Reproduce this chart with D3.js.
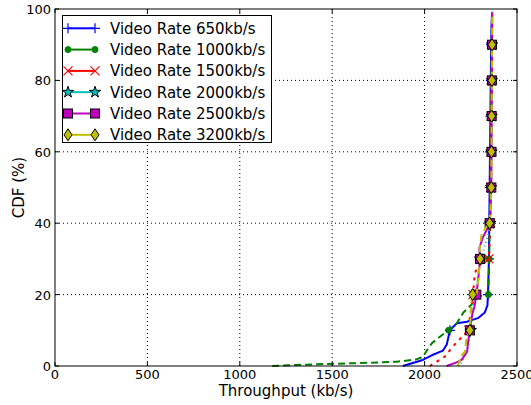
<!DOCTYPE html>
<html><head><meta charset="utf-8">
<script src="https://cdnjs.cloudflare.com/ajax/libs/d3/7.8.5/d3.min.js"></script>
<style>body{margin:0;background:#fff}svg{display:block}text{font-family:"DejaVu Sans",sans-serif}</style>
</head><body><svg id="c" width="531" height="405"></svg>
<script>
// Throughput (kb/s) and CDF (%)
const seriesNames = ["Video Rate 650kb/s","Video Rate 1000kb/s","Video Rate 1500kb/s","Video Rate 2000kb/s","Video Rate 2500kb/s","Video Rate 3200kb/s"];
const rate650x  = [1882,1990,2039,2099,2120,2137,2175,2229,2288,2326,2340,2343,2348,2350,2352,2354,2356,2358,2360,2362,2365];
const rate650y  = [0,1.7,3,4.3,6,10,12,12.4,13.4,15,17,20,30,40,50,60,70,80,90,95,99];
const rate1000x = [1175,1300,1500,1700,1850,1950,1990,2020,2040,2095,2130,2175,2210,2250,2280,2300,2345,2350,2352,2355,2357,2359,2361,2363,2365];
const rate1000y = [0,0.3,0.6,0.9,1.2,1.8,2.5,5,6.4,8.7,10,12,15,17,19,19.6,20,30,40,50,60,70,80,90,99];
const rate1500x = [2028,2060,2120,2137,2175,2218,2240,2245,2256,2262,2265,2272,2290,2348,2356,2358,2360,2361,2362,2363,2365];
const rate1500y = [0,1,3,4.5,6.7,9,10,14,17,20,22,26,28,30,40,50,60,70,80,90,99];
const rate2000x = [2180,2200,2222,2235,2250,2265,2280,2288,2300,2310,2330,2345,2355,2360,2362,2363,2364,2365,2366,2367,2368];
const rate2000y = [0,1,3.6,5.4,10,18,22,25,30,31,34.5,37,40,50,60,70,80,90,95,99,99.5];
const rate2500x = [2119,2173,2200,2230,2236,2245,2253,2260,2270,2280,2290,2300,2296,2315,2340,2352,2358,2361,2362,2363,2364,2365,2366];
const rate2500y = [0,1,1.7,4,7,10,13,15,16.6,20,24,30,33,36,38.5,40,45,50,60,70,80,90,99];
const rate3200x = [2180,2200,2218,2227,2245,2252,2260,2281,2290,2300,2298,2308,2318,2335,2352,2358,2361,2362,2363,2364,2365,2366];
const rate3200y = [0,3,4,8,10,17.6,20,20,24,30,33,36.7,37.6,39,40,45,50,60,70,80,90,99];
const markerLevels = [10,20,30,40,50,60,70,80,90];
const xTicks = [0,500,1000,1500,2000,2500];
const yTicks = [0,20,40,60,80,100];

const W=531,H=405, L=55, R=517, T=9, B=366;
const svg = d3.select("#c");
const x = d3.scaleLinear().domain([0,2500]).range([L,R]);
const y = d3.scaleLinear().domain([0,100]).range([B,T]);

// grid
const g = svg.append("g");
xTicks.slice(1,-1).forEach(v=>g.append("line").attr("x1",x(v)).attr("x2",x(v)).attr("y1",T).attr("y2",B)
  .attr("stroke","#000").attr("stroke-width",1).attr("stroke-dasharray","1,3"));
yTicks.slice(1,-1).forEach(v=>g.append("line").attr("y1",y(v)).attr("y2",y(v)).attr("x1",L).attr("x2",R)
  .attr("stroke","#000").attr("stroke-width",1).attr("stroke-dasharray","1,3"));

const styles = [
  {c:"#0000ff", dash:null, m:"plus", xs:rate650x, ys:rate650y},
  {c:"#008000", dash:"7,4", m:"dot", xs:rate1000x, ys:rate1000y},
  {c:"#ff0000", dash:"3,5", m:"x", xs:rate1500x, ys:rate1500y},
  {c:"#00bfbf", dash:"1,3", m:"star", xs:rate2000x, ys:rate2000y},
  {c:"#bf00bf", dash:null, m:"square", xs:rate2500x, ys:rate2500y},
  {c:"#bfbf00", dash:"7,4", m:"diamond", xs:rate3200x, ys:rate3200y}
];

function drawMarker(sel, type, cx, cy, c){
  if(type==="plus"){
    sel.append("path").attr("d",`M${cx-5},${cy}H${cx+5}M${cx},${cy-5}V${cy+5}`).attr("stroke",c).attr("stroke-width",1.2).attr("fill","none");
  } else if(type==="dot"){
    sel.append("circle").attr("cx",cx).attr("cy",cy).attr("r",3).attr("fill",c).attr("stroke",c);
  } else if(type==="x"){
    sel.append("path").attr("d",`M${cx-4.5},${cy-4.5}L${cx+4.5},${cy+4.5}M${cx-4.5},${cy+4.5}L${cx+4.5},${cy-4.5}`).attr("stroke",c).attr("stroke-width",1.2).attr("fill","none");
  } else if(type==="star"){
    sel.append("path").attr("d",d3.symbol(d3.symbolStar,40)()).attr("transform",`translate(${cx},${cy})`).attr("fill",c).attr("stroke","#000").attr("stroke-width",1);
  } else if(type==="square"){
    sel.append("rect").attr("x",cx-4.5).attr("y",cy-4.5).attr("width",9).attr("height",9).attr("fill",c).attr("stroke","#000").attr("stroke-width",1);
  } else if(type==="diamond"){
    sel.append("path").attr("d",`M${cx},${cy-6}L${cx+4},${cy}L${cx},${cy+6}L${cx-4},${cy}Z`).attr("fill",c).attr("stroke","#000").attr("stroke-width",1);
  }
}

const line = d3.line().x(d=>x(d[0])).y(d=>y(d[1]));
const plot = svg.append("g");
styles.forEach(s=>{
  const pts = s.xs.map((v,i)=>[v,s.ys[i]]);
  plot.append("path").datum(pts).attr("d",line).attr("fill","none").attr("stroke",s.c).attr("stroke-width",2)
    .attr("stroke-dasharray",s.dash).attr("stroke-linejoin","round");
  const mg = plot.append("g");
  markerLevels.forEach(lv=>{
    const i = pts.findIndex(p=>p[1]===lv);
    if(i>=0) drawMarker(mg, s.m, x(pts[i][0]), y(pts[i][1]), s.c);
  });
});

// frame
svg.append("rect").attr("x",L).attr("y",T).attr("width",R-L).attr("height",B-T).attr("fill","none").attr("stroke","#000").attr("stroke-width",1);

// ticks (inward, all sides)
const tk = svg.append("g").attr("stroke","#000").attr("stroke-width",1);
xTicks.forEach(v=>{ tk.append("line").attr("x1",x(v)).attr("x2",x(v)).attr("y1",B).attr("y2",B-4);
  tk.append("line").attr("x1",x(v)).attr("x2",x(v)).attr("y1",T).attr("y2",T+4);});
yTicks.forEach(v=>{ tk.append("line").attr("y1",y(v)).attr("y2",y(v)).attr("x1",L).attr("x2",L+4);
  tk.append("line").attr("y1",y(v)).attr("y2",y(v)).attr("x1",R).attr("x2",R-4);});

const lab = svg.append("g").attr("font-size",13).attr("fill","#000");
xTicks.forEach(v=>lab.append("text").attr("x",x(v)).attr("y",B+13).attr("text-anchor","middle").text(v));
yTicks.forEach(v=>lab.append("text").attr("x",L-4).attr("y",y(v)+5).attr("text-anchor","end").text(v));

svg.append("text").attr("x",(L+R)/2).attr("y",396).attr("text-anchor","middle").attr("font-size",15).text("Throughput (kb/s)");
svg.append("text").attr("transform",`translate(24,${(T+B)/2}) rotate(-90)`).attr("text-anchor","middle").attr("font-size",15).text("CDF (%)");

// legend
const lg = svg.append("g");
lg.append("rect").attr("x",62.5).attr("y",15.5).attr("width",209).attr("height",127).attr("fill","#fff").attr("stroke","#000").attr("stroke-width",1);
seriesNames.forEach((n,i)=>{
  const cy = 28.3 + i*21.3;
  const s = styles[i];
  lg.append("line").attr("x1",68).attr("x2",95).attr("y1",cy).attr("y2",cy).attr("stroke",s.c).attr("stroke-width",2);
  drawMarker(lg, s.m, 68, cy, s.c);
  drawMarker(lg, s.m, 95, cy, s.c);
  lg.append("text").attr("x",110).attr("y",cy+5.5).attr("font-size",15).text(n);
});
</script></body></html>
